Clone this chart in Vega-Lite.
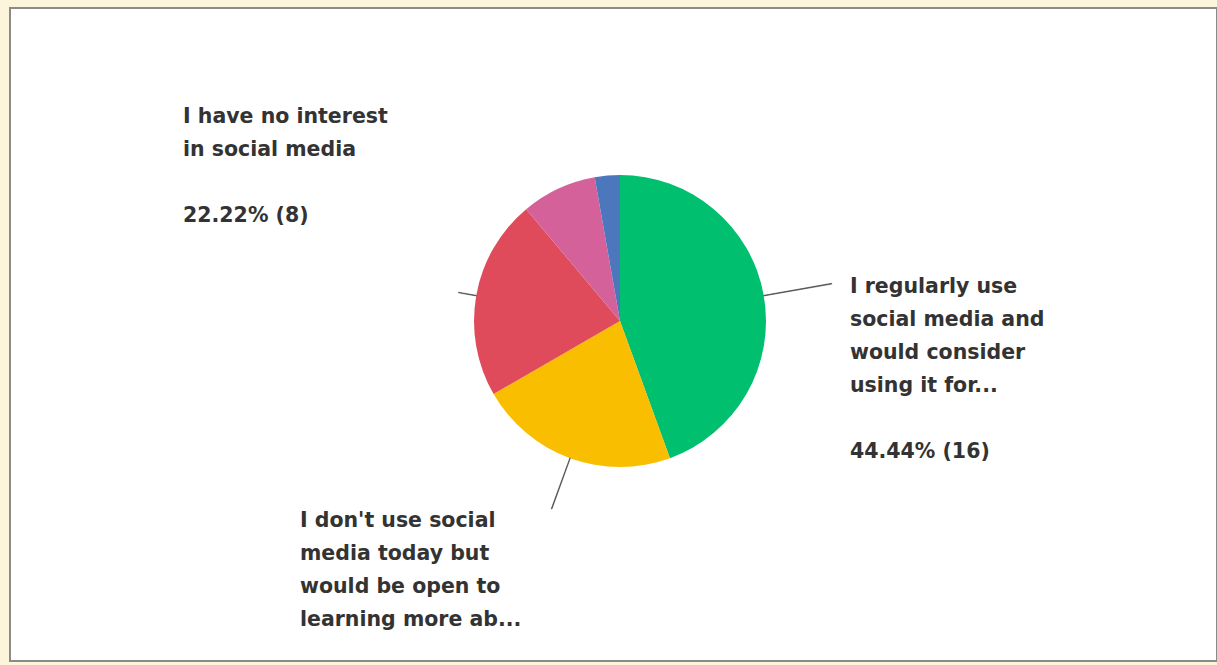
{
  "$schema": "https://vega.github.io/schema/vega-lite/v6.json",
  "autosize": {"type": "none"},
  "width": 1207,
  "height": 653,
  "padding": {"left": 10, "top": 8, "right": 0, "bottom": 4},
  "background": "#fdf4dc",
  "view": {"fill": "#ffffff", "stroke": "#8a8a8a", "strokeWidth": 2},
  "config": {"text": {"font": "DejaVu Sans"}},
  "data": {
    "values": [
      {"idx": 1, "answer": "I regularly use social media and would consider using it for...", "count": 16, "label": "I regularly use\nsocial media and\nwould consider\nusing it for...", "pct": "44.44% (16)"},
      {"idx": 2, "answer": "I don't use social media today but would be open to learning more ab...", "count": 8, "label": "I don't use social\nmedia today but\nwould be open to\nlearning more ab...", "pct": "22.22% (8)"},
      {"idx": 3, "answer": "I have no interest in social media", "count": 8, "label": "I have no interest\nin social media", "pct": "22.22% (8)"},
      {"idx": 4, "answer": "I use social media but would not use it for this", "count": 3, "label": "", "pct": "8.33% (3)"},
      {"idx": 5, "answer": "Other", "count": 1, "label": "", "pct": "2.78% (1)"}
    ]
  },
  "layer": [
    {
      "mark": {"type": "arc", "radius": 146, "xOffset": 6.5, "yOffset": -13.5},
      "encoding": {
        "theta": {"field": "count", "type": "quantitative", "stack": true},
        "order": {"field": "idx", "type": "quantitative"},
        "color": {
          "field": "answer",
          "type": "nominal",
          "scale": {
            "domain": [
              "I regularly use social media and would consider using it for...",
              "I don't use social media today but would be open to learning more ab...",
              "I have no interest in social media",
              "I use social media but would not use it for this",
              "Other"
            ],
            "range": ["#00bf6f", "#f9be00", "#df4b5b", "#d4619a", "#4d77bd"]
          },
          "legend": null
        }
      }
    },
    {
      "transform": [{"filter": "datum.idx == 1"}],
      "mark": {"type": "arc", "theta": 1.3943, "theta2": 1.3983, "radius": 215, "radius2": 146, "xOffset": 6.5, "yOffset": -13.5, "fill": "#4a4a4a", "stroke": "#4a4a4a", "strokeWidth": 0.6},
      "encoding": {}
    },
    {
      "transform": [{"filter": "datum.idx == 2"}],
      "mark": {"type": "arc", "theta": 3.4887, "theta2": 3.4927, "radius": 200, "radius2": 146, "xOffset": 6.5, "yOffset": -13.5, "fill": "#4a4a4a", "stroke": "#4a4a4a", "strokeWidth": 0.6},
      "encoding": {}
    },
    {
      "transform": [{"filter": "datum.idx == 3"}],
      "mark": {"type": "arc", "theta": 4.8849, "theta2": 4.8889, "radius": 164, "radius2": 146, "xOffset": 6.5, "yOffset": -13.5, "fill": "#4a4a4a", "stroke": "#4a4a4a", "strokeWidth": 0.6},
      "encoding": {}
    },
    {
      "mark": {"type": "text", "radius": 232, "xOffset": 6.5, "yOffset": -13.5, "dx": 1.5, "dy": 12, "align": "left", "baseline": "alphabetic", "lineBreak": "\n", "lineHeight": 33, "fontSize": 20.5, "fontWeight": "bold", "color": "#333333"},
      "encoding": {
        "theta": {"field": "count", "type": "quantitative", "stack": true},
        "order": {"field": "idx", "type": "quantitative"},
        "text": {"condition": {"test": "datum.idx == 1", "field": "label"}, "value": ""}
      }
    },
    {
      "mark": {"type": "text", "radius": 232, "xOffset": 6.5, "yOffset": -13.5, "dx": 1.5, "dy": 177, "align": "left", "baseline": "alphabetic", "fontSize": 20.5, "fontWeight": "bold", "color": "#333333"},
      "encoding": {
        "theta": {"field": "count", "type": "quantitative", "stack": true},
        "order": {"field": "idx", "type": "quantitative"},
        "text": {"condition": {"test": "datum.idx == 1", "field": "pct"}, "value": ""}
      }
    },
    {
      "mark": {"type": "text", "radius": 200, "xOffset": 6.5, "yOffset": -13.5, "dx": -251.6, "dy": 18, "align": "left", "baseline": "alphabetic", "lineBreak": "\n", "lineHeight": 33, "fontSize": 20.5, "fontWeight": "bold", "color": "#333333"},
      "encoding": {
        "theta": {"field": "count", "type": "quantitative", "stack": true},
        "order": {"field": "idx", "type": "quantitative"},
        "text": {"condition": {"test": "datum.idx == 2", "field": "label"}, "value": ""}
      }
    },
    {
      "mark": {"type": "text", "radius": 200, "xOffset": 6.5, "yOffset": -13.5, "dx": -240, "dy": -163, "align": "left", "baseline": "alphabetic", "lineBreak": "\n", "lineHeight": 33, "fontSize": 20.5, "fontWeight": "bold", "color": "#333333"},
      "encoding": {
        "theta": {"field": "count", "type": "quantitative", "stack": true},
        "order": {"field": "idx", "type": "quantitative"},
        "text": {"condition": {"test": "datum.idx == 3", "field": "label"}, "value": ""}
      }
    },
    {
      "mark": {"type": "text", "radius": 200, "xOffset": 6.5, "yOffset": -13.5, "dx": -240, "dy": -64, "align": "left", "baseline": "alphabetic", "fontSize": 20.5, "fontWeight": "bold", "color": "#333333"},
      "encoding": {
        "theta": {"field": "count", "type": "quantitative", "stack": true},
        "order": {"field": "idx", "type": "quantitative"},
        "text": {"condition": {"test": "datum.idx == 3", "field": "pct"}, "value": ""}
      }
    }
  ]
}
